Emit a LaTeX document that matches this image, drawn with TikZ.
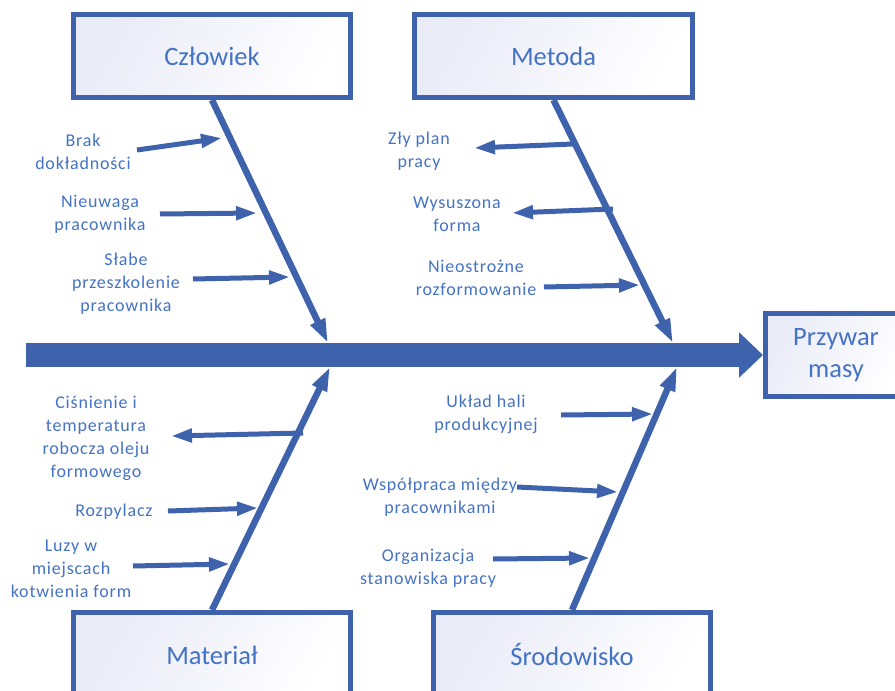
\documentclass[tikz,border=0pt]{standalone}
\usepackage{fontspec}
\setmainfont{Carlito}
\newfontfamily\causefont[LetterSpace=4.5]{Carlito}
\usetikzlibrary{arrows.meta}
\definecolor{lineblue}{RGB}{62,99,172}
\definecolor{textblue}{RGB}{68,114,196}
\definecolor{lav}{RGB}{233,235,247}
\tikzset{
  catbox/.style={draw=lineblue, line width=5pt, left color=lav, right color=white, shading angle=60,
    inner sep=0pt, text=textblue, font=\fontsize{26.5}{32}\selectfont, align=center},
  cause/.style={text=textblue, font=\causefont\fontsize{18}{23}\selectfont, align=center, inner sep=0pt},
  bone/.style={draw=lineblue, line width=6.5pt, -{Triangle[width=15pt,length=24pt]}},
  twig/.style={draw=lineblue, line width=5pt, -{Triangle[width=13pt,length=21pt]}},
  spine/.style={draw=lineblue, line width=24pt, -{Triangle[width=44pt,length=24pt]}}
}
\begin{document}
\begin{tikzpicture}[x=1pt,y=-1pt]
\useasboundingbox (0,0) rectangle (895,691);
\clip (0,0) rectangle (895,691);

% category boxes and effect
\node[catbox, minimum width=277pt, minimum height=83pt] (czl) at (212,56) {Człowiek};
\node[catbox, minimum width=278pt, minimum height=83pt] (met) at (553.5,56) {Metoda};
\node[catbox, minimum width=277pt, minimum height=85pt] (mat) at (212,655) {Materiał};
\node[catbox, minimum width=277pt, minimum height=85pt] (sro) at (572,655) {Środowisko};
\node[catbox, minimum width=141pt, minimum height=83pt] (eff) at (836,355) {Przywar\\masy};

% spine
\coordinate (sp) at (26,355);
\draw[spine] (sp) -- (eff.west);

% bone tips
\coordinate (tczl) at (328,343);
\coordinate (tmet) at (673,343);
\coordinate (tmat) at (330,367);
\coordinate (tsro) at (677,367);
\draw[bone] (czl.south) -- (tczl);
\draw[bone] (met.south) -- (tmet);
\draw[bone] (mat.north) -- (tmat);
\draw[bone] (sro.north) -- (tsro);

% cause labels
\node[cause] (c1) at (83,152) {Brak\\dokładności};
\node[cause] (c2) at (100,214) {Nieuwaga\\pracownika};
\node[cause] (c3) at (126,284) {Słabe\\przeszkolenie\\pracownika};
\node[cause] (c4) at (419,151) {Zły plan\\pracy};
\node[cause] (c5) at (457,214) {Wysuszona\\forma};
\node[cause] (c6) at (476,278) {Nieostrożne\\rozformowanie};
\node[cause] (c7) at (96,438) {Ciśnienie i\\temperatura\\robocza oleju\\formowego};
\node[cause] (c8) at (114,512) {Rozpylacz};
\node[cause] (c9) at (71,569) {Luzy w\\miejscach\\kotwienia form};
\node[cause] (c10) at (486,414) {Układ hali\\produkcyjnej};
\node[cause] (c11) at (440,497) {Współpraca między\\pracownikami};
\node[cause] (c12) at (428,568) {Organizacja\\stanowiska pracy};

% twig arrows
\coordinate (a1s) at (137,150);  \coordinate (a1e) at (222,138);
\coordinate (a2s) at (160,214);  \coordinate (a2e) at (257,213);
\coordinate (a3s) at (193,279);  \coordinate (a3e) at (290,277);
\coordinate (a4s) at (573,144);  \coordinate (a4e) at (474,148);
\coordinate (a5s) at (613,209);  \coordinate (a5e) at (512,213);
\coordinate (a6s) at (544,287);  \coordinate (a6e) at (640,285);
\coordinate (a7s) at (303,433);  \coordinate (a7e) at (171,436);
\coordinate (a8s) at (168,511);  \coordinate (a8e) at (258,508);
\coordinate (a9s) at (133,566);  \coordinate (a9e) at (230,564);
\coordinate (a10s) at (561,415); \coordinate (a10e) at (653,414);
\coordinate (a11s) at (517,487); \coordinate (a11e) at (618,492);
\coordinate (a12s) at (493,559); \coordinate (a12e) at (590,558);
\foreach \i in {1,...,12} {\draw[twig] (a\i s) -- (a\i e);}
\end{tikzpicture}
\end{document}
